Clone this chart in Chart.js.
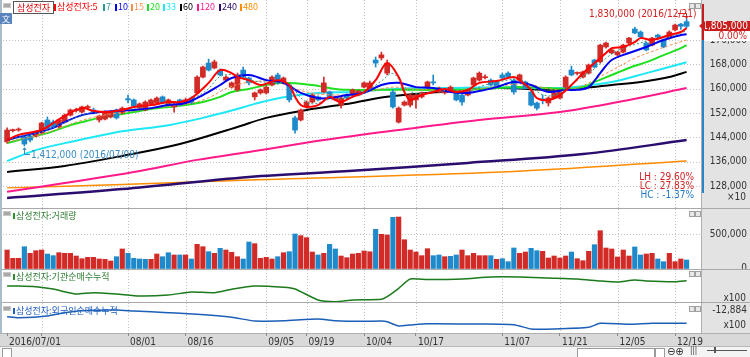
<!DOCTYPE html>
<html><head><meta charset="utf-8">
<script src="https://cdn.jsdelivr.net/npm/chart.js@4.4.1/dist/chart.umd.min.js"></script>
<style>
html,body{margin:0;padding:0;background:#fff;}
#wrap{position:relative;width:750px;height:357px;overflow:hidden;background:#fff;}
canvas{position:absolute;left:0;}
.t{position:absolute;white-space:nowrap;font-family:'Noto Sans CJK KR',sans-serif;font-size:9px;line-height:11px;}
.n{position:absolute;white-space:nowrap;font-family:'Liberation Sans Narrow','DejaVu Sans Condensed','Liberation Sans',sans-serif;font-size:10px;line-height:11px;}
.ico{position:absolute;width:6px;height:3px;background:#a8a8a8;border:1px solid #c8c8c8;}
.wb{position:absolute;width:4px;height:4px;border:1px solid #a0a0a0;background:#e8e8e8;}
.sep{position:absolute;left:0;width:750px;height:1px;background:#a9a9a9;}
</style></head>
<body><div id="wrap">
<canvas id="cPrice" width="750" height="208" style="top:0"></canvas>
<canvas id="cVol" width="750" height="60" style="top:209px"></canvas>
<canvas id="cInst" width="750" height="32" style="top:270px"></canvas>
<canvas id="cFor" width="750" height="43" style="top:303px"></canvas>

<div class="sep" style="top:208px"></div>
<div class="sep" style="top:269px"></div>
<div class="sep" style="top:302px"></div>
<div style="position:absolute;left:0;top:0;width:2px;height:333px;background:#a9bccc"></div>

<!-- top-left title & legend -->
<div class="ico" style="left:3px;top:3px"></div>
<div class="t" style="left:13px;top:1px;width:39px;height:11px;border:1px solid #555;color:#e00000;text-align:center;background:#fff">삼성전자</div>
<div id="legend"></div>
<div class="t" style="left:0;top:13px;width:12px;height:11px;background:#5a84bd;color:#fff;text-align:center;font-size:8px;line-height:11px">文</div>

<!-- panel headers -->
<div class="ico" style="left:3px;top:211px"></div>
<div style="position:absolute;left:13px;top:213px;width:2px;height:6px;background:#2e8b2e"></div>
<div class="t" style="left:16px;top:210px;color:#2e7d32">삼성전자:거래량</div>
<div class="ico" style="left:3px;top:272px"></div>
<div style="position:absolute;left:13px;top:274px;width:2px;height:6px;background:#2e8b2e"></div>
<div class="t" style="left:16px;top:271px;color:#2e7d32">삼성전자:기관순매수누적</div>
<div class="ico" style="left:3px;top:306px"></div>
<div style="position:absolute;left:13px;top:308px;width:2px;height:6px;background:#1f5fbf"></div>
<div class="t" style="left:16px;top:305px;color:#1f5fbf">삼성전자:외국인순매수누적</div>

<!-- window buttons -->
<div class="wb" style="left:689px;top:3px"></div><div class="wb" style="left:695px;top:3px"></div>
<div class="wb" style="left:689px;top:211px"></div><div class="wb" style="left:695px;top:211px"></div>
<div class="wb" style="left:689px;top:271px"></div><div class="wb" style="left:695px;top:271px"></div>
<div class="wb" style="left:689px;top:306px"></div><div class="wb" style="left:695px;top:306px"></div>

<!-- annotations -->
<div class="n" style="left:589px;top:8px;color:#d42020">1,830,000 (2016/12/21)</div>
<div class="n" style="left:31px;top:149px;color:#3a8cc4">1,412,000 (2016/07/08)</div>
<div class="n" style="right:56px;top:171px;color:#d42020;text-align:right">LH : 29.60%</div>
<div class="n" style="right:56px;top:180px;color:#d42020;text-align:right">LC : 27.83%</div>
<div class="n" style="right:56px;top:189px;color:#1f78c8;text-align:right">HC : -1.37%</div>

<!-- right axis overlays -->
<div style="position:absolute;left:704px;top:31px;width:46px;height:10px;background:#fff"></div>
<div class="n" style="right:3px;top:30px;color:#d42020;text-align:right">0.00%</div>
<div style="position:absolute;left:705px;top:21px;width:45px;height:10px;background:#c81e1e"></div>
<div class="n" style="right:2px;top:20px;color:#fff;text-align:right">1,805,000</div>
<div class="n" style="right:4px;top:191px;color:#333;text-align:right">×10</div>
<div class="n" style="right:4px;top:292px;color:#333;text-align:right">x100</div>
<div class="n" style="right:4px;top:319px;color:#333;text-align:right">x100</div>

<!-- bottom bar -->
<div style="position:absolute;left:0;top:346px;width:750px;height:11px;background:#f4f4f4;border-top:1px solid #b8b8b8"></div>
<div style="position:absolute;left:2px;top:348px;width:8px;height:8px;border:1px solid #9a9a9a;background:#fff"></div>
<div style="position:absolute;left:577px;top:348px;width:76px;height:8px;border:1px solid #9a9a9a;background:#fff"></div>
<div style="position:absolute;left:655px;top:348px;width:8px;height:8px;border:1px solid #9a9a9a;background:#fff"></div>
<div class="n" style="left:667px;top:346px;color:#333;font-size:11px">⊖⊕</div>
<div class="n" style="left:690px;top:345px;color:#333;font-size:8px">|||</div>
<div style="position:absolute;left:707px;top:350px;width:40px;height:1px;background:#555"></div>
<div style="position:absolute;left:714px;top:347px;width:2px;height:6px;background:#555"></div>

<svg width="750" height="357" style="position:absolute;left:0;top:0;pointer-events:none">
  <polyline points="678,13.5 686.5,13.5 686.5,17" fill="none" stroke="#d42020" stroke-width="1"/>
  <polygon points="684.5,16 688.5,16 686.5,19" fill="#d42020"/>
  <polyline points="24.5,148 24.5,154.5 30,154.5" fill="none" stroke="#3a8cc4" stroke-width="1"/>
  <polygon points="22.5,150 26.5,150 24.5,147" fill="#3a8cc4"/>
  <polygon points="699,26 705,21 705,31" fill="#c81e1e"/>
  <line x1="703" y1="4" x2="703" y2="40" stroke="#c81e1e" stroke-width="2"/>
  <line x1="703" y1="40" x2="703" y2="193" stroke="#2a86c6" stroke-width="2"/>
</svg>
</div>

<script>
// ---------- DATA (prices in thousand KRW) ----------
const tickIdx  = [0, 6, 21, 31, 45, 52, 62, 71, 86, 96, 106, 116];
const tickText = ['2016/07/01', '', '08/01', '08/16', '09/05', '09/19', '10/04', '10/17', '11/07', '11/21', '12/05', '12/19'];

const openK = [1425,1462,1464,1441,1444,1444,1454,1497,1490,1474, 1490,1513,1528,1523,1538,1530,1497,1500,1507,1530,
  1520,1567,1563,1536,1530,1550,1553,1573,1546,1540, 1563,1553,1569,1586,1638,1684,1668,1661,1628,1605,
  1596,1661,1635,1573,1586,1586,1612,1645,1619,1612, 1504,1497,1540,1556,1573,1589,1589,1563,1546,1579,
  1579,1579,1605,1602,1694,1701,1651,1589,1490,1546, 1546,1563,1573,1605,1622,1589,1586,1596,1589,1579,
  1579,1612,1628,1636,1628,1622,1645,1651,1628,1628, 1622,1589,1553,1566,1553,1569,1569,1605,1661,1650,
  1638,1651,1694,1688,1737,1717,1711,1720,1750,1796, 1786,1750,1743,1776,1760,1766,1793,1812,1820];
const highK = [1471,1467,1471,1448,1448,1461,1490,1507,1497,1500, 1517,1533,1536,1543,1546,1536,1513,1527,1527,1533,
  1540,1579,1566,1553,1560,1566,1573,1576,1566,1553, 1566,1569,1573,1642,1674,1697,1694,1665,1642,1622,
  1651,1671,1638,1589,1599,1609,1642,1651,1638,1615, 1510,1533,1560,1583,1576,1638,1592,1576,1573,1583,
  1599,1596,1622,1625,1704,1720,1694,1596,1540,1560, 1583,1583,1589,1625,1645,1605,1599,1609,1592,1583,
  1599,1638,1655,1645,1632,1625,1651,1655,1632,1648, 1625,1592,1556,1579,1573,1589,1592,1642,1674,1655,
  1658,1681,1697,1746,1753,1730,1723,1746,1769,1802, 1790,1753,1769,1779,1763,1790,1812,1815,1830];
const lowK = [1421,1458,1460,1412,1425,1441,1451,1467,1471,1471, 1487,1510,1523,1520,1533,1517,1490,1497,1504,1500,
  1517,1553,1540,1533,1527,1546,1550,1550,1543,1523, 1543,1550,1550,1583,1635,1658,1665,1642,1625,1602,
  1592,1635,1612,1563,1582,1582,1609,1615,1615,1556, 1454,1494,1536,1553,1560,1586,1569,1560,1536,1566,
  1576,1576,1602,1599,1671,1694,1645,1536,1487,1543, 1540,1536,1569,1599,1612,1586,1582,1592,1560,1546,
  1576,1609,1625,1632,1609,1602,1632,1635,1582,1625, 1599,1543,1530,1550,1543,1566,1566,1602,1642,1645,
  1635,1648,1668,1684,1733,1714,1708,1717,1746,1780, 1766,1724,1740,1763,1734,1763,1790,1795,1800];
const closeK = [1464,1464,1467,1418,1431,1457,1487,1471,1474,1497, 1513,1530,1530,1540,1540,1520,1510,1523,1523,1504,
  1536,1563,1543,1550,1556,1563,1569,1553,1563,1550, 1546,1563,1553,1638,1671,1661,1688,1645,1638,1619,
  1645,1638,1619,1586,1596,1605,1638,1619,1635,1563, 1464,1530,1556,1579,1563,1619,1573,1573,1569,1569,
  1596,1592,1619,1619,1684,1711,1684,1540,1536,1556, 1579,1579,1586,1622,1619,1602,1596,1605,1563,1556,
  1596,1635,1651,1638,1612,1605,1635,1638,1589,1645, 1602,1546,1536,1563,1569,1586,1589,1638,1645,1651,
  1655,1678,1671,1743,1750,1727,1720,1743,1766,1783, 1770,1727,1766,1769,1737,1786,1809,1805,1805];

// volume in thousand shares, and colour flags (R = red, B = blue)
const volK = [268,148,148,316,220,258,268,210,186,229, 220,220,181,142,162,162,138,133,109,171,
  283,220,148,138,133,133,210,171,229,196, 196,196,138,350,316,244,220,292,268,235,
  171,138,384,360,148,162,138,171,229,244, 500,476,447,239,196,220,350,283,181,157,
  210,220,254,243,568,496,486,742,746,417, 268,239,186,287,186,196,171,176,196,268,
  186,220,186,186,186,133,142,99,297,220, 239,292,258,249,152,181,152,181,239,142,
  113,249,345,548,297,283,167,268,181,312, 196,210,220,138,99,220,99,138,123];
const volColour = 'RRRBRRRBBRRRRRRRRRRB' + 'RBBBBRRBBRBRBRRBRBRR' + 'RBBRRRRBRBBRRRBRBBRR' +
  'RRRRBR' + 'RBRRRRRRBB' + 'RBBRRRRRBR' + 'BBBRRBBRRR' + 'RRBRRRBRRR' + 'RRRBBRRBBR' + 'RRB';

// moving averages: [day index, price]
const ma5 = [[0,1431],[2,1448],[6,1464],[8,1487],[10,1510],[13,1536],[15,1527],[17,1523],[20,1530],[22,1540],[25,1546],[28,1556],[30,1556],[32,1569],[35,1619],[37,1661],[39,1651],[40,1638],[42,1628],[44,1612],[47,1628],[49,1612],[50,1573],[51,1546],[52,1540],[54,1546],[56,1573],[57,1563],[58,1556],[60,1573],[62,1589],[64,1628],[66,1684],[68,1638],[69,1589],[70,1563],[72,1579],[74,1589],[76,1599],[78,1589],[80,1596],[82,1619],[85,1625],[88,1638],[89,1628],[91,1596],[92,1569],[94,1563],[96,1579],[98,1612],[100,1651],[102,1684],[104,1717],[105,1733],[107,1737],[109,1753],[110,1766],[112,1760],[115,1776],[117,1786],[118,1799]];
const ma7 = [[0,1431],[3,1445],[6,1458],[9,1480],[12,1505],[15,1522],[18,1525],[21,1532],[24,1541],[27,1551],[30,1556],[33,1575],[35,1600],[37,1640],[40,1645],[43,1625],[46,1620],[49,1615],[51,1570],[53,1550],[56,1565],[59,1570],[62,1585],[65,1625],[67,1650],[69,1605],[71,1585],[74,1590],[77,1595],[80,1592],[83,1612],[86,1625],[89,1630],[91,1605],[93,1580],[95,1578],[97,1600],[100,1640],[102,1665],[104,1700],[106,1725],[109,1745],[112,1760],[115,1770],[118,1790]];
const ma10 = [[0,1431],[2,1441],[5,1454],[8,1471],[10,1490],[13,1513],[16,1523],[19,1527],[22,1530],[25,1536],[28,1546],[31,1553],[34,1579],[37,1612],[39,1635],[42,1645],[45,1628],[48,1619],[51,1586],[54,1569],[56,1569],[59,1579],[62,1586],[65,1612],[68,1619],[71,1605],[74,1602],[77,1589],[80,1586],[83,1596],[85,1605],[88,1622],[91,1612],[94,1589],[97,1596],[99,1596],[101,1605],[103,1651],[105,1694],[108,1717],[111,1737],[114,1760],[117,1776],[118,1779]];
const ma15 = [[0,1425],[4,1440],[8,1462],[12,1490],[16,1510],[20,1522],[24,1532],[28,1542],[32,1552],[35,1570],[38,1600],[41,1618],[44,1625],[47,1622],[50,1600],[53,1585],[56,1580],[60,1580],[64,1595],[67,1605],[70,1600],[74,1595],[78,1593],[82,1600],[86,1610],[90,1615],[94,1600],[97,1595],[100,1610],[103,1640],[106,1670],[109,1700],[112,1722],[115,1742],[118,1760]];
const ma20 = [[0,1421],[4,1441],[7,1454],[10,1474],[13,1490],[16,1504],[19,1513],[22,1523],[25,1533],[28,1540],[31,1546],[34,1556],[37,1573],[39,1589],[42,1599],[45,1612],[48,1619],[53,1612],[56,1602],[59,1596],[65,1596],[71,1596],[77,1596],[83,1599],[88,1605],[94,1602],[97,1599],[100,1605],[102,1622],[105,1645],[108,1668],[111,1687],[114,1710],[117,1733],[118,1743]];
const ma33 = [[0,1362],[5,1398],[10,1421],[16,1445],[20,1460],[28,1480],[34,1504],[39,1528],[43,1550],[48,1572],[54,1586],[60,1589],[65,1596],[71,1602],[77,1602],[86,1605],[96,1602],[105,1622],[111,1651],[118,1687]];
const ma60 = [[0,1326],[10,1346],[20,1379],[30,1418],[40,1474],[45,1504],[52,1530],[60,1553],[66,1573],[75,1589],[85,1602],[95,1596],[100,1602],[105,1612],[110,1622],[115,1638],[118,1655]];
const ma120 = [[0,1261],[10,1290],[22,1326],[33,1366],[42,1392],[55,1431],[68,1464],[82,1497],[96,1523],[108,1563],[118,1602]];
const ma240 = [[0,1241],[20,1270],[42,1310],[60,1330],[80,1356],[100,1385],[118,1431]];
const ma480 = [[0,1274],[20,1285],[42,1300],[86,1326],[118,1362]];

// cumulative net buying (x100 shares): [day index, value]
const instCum = [[0,600],[2,600],[5,530],[8,300],[10,30],[12,-200],[15,-70],[19,-200],[23,-400],[28,-300],[32,0],[36,-70],[39,270],[43,600],[48,470],[50,300],[54,-800],[57,-970],[60,-800],[65,-730],[66,-470],[68,370],[70,1300],[73,1250],[79,1300],[84,1500],[89,1500],[94,1400],[99,1300],[103,1100],[106,1000],[109,1200],[111,1100],[116,1030],[118,1130]];
const forCum = [[0,-13286],[2,-13346],[7,-13244],[10,-13046],[13,-12926],[19,-12884],[22,-12944],[28,-13046],[33,-13142],[39,-13322],[43,-13544],[48,-13526],[54,-13424],[57,-13526],[62,-13562],[65,-13544],[66,-13586],[68,-13844],[70,-13784],[73,-13706],[82,-13724],[88,-13766],[91,-14024],[95,-14024],[101,-13922],[103,-13682],[108,-13742],[112,-13682],[118,-13682]];

const maNames = ['삼성전자:5', '7', '10', '15', '20', '33', '60', '120', '240', '480'];
const priceTicks = [1280, 1360, 1440, 1520, 1600, 1680, 1760];
const volTicks = [0, 500];
const forTicks = [-12884];

// ---------- STYLE ----------
const UP = '#d22a26', DOWN = '#1f8acb';
const maColors = ['#ff0000', '#2f9a8c', '#0000f0', '#f39050', '#1ee01e', '#1ee8f5', '#000000', '#ff1a8c', '#2a0d6e', '#ff8c00'];
const NUMFONT = "'Liberation Sans Narrow','DejaVu Sans Condensed','Liberation Sans',sans-serif";
const AXIS_BG = '#e3e3e3', BAND_BG = '#d9d9d9', GRID = '#c2c2c2';
const X_MIN = -0.71, X_MAX = 120.5;

Chart.defaults.animation = false;
Chart.defaults.events = [];
Chart.defaults.font.family = NUMFONT;
Chart.defaults.font.size = 10;
Chart.defaults.color = '#333';
Chart.defaults.plugins.legend.display = false;
Chart.defaults.plugins.tooltip.enabled = false;

const fmt = v => Math.round(v).toLocaleString('en-US');

// legend (HTML text)
(function(){
  const lg = document.getElementById('legend');
  let x = 54;
  const widths = [49, 12, 16, 16, 16, 17, 17, 22, 21, 20];
  maNames.forEach((nm, k) => {
    const m = document.createElement('div');
    m.style.cssText = `position:absolute;left:${x}px;top:4px;width:2px;height:7px;background:${maColors[k]}`;
    lg.appendChild(m);
    const t = document.createElement('div');
    t.className = 't';
    t.style.cssText = `left:${x + 3}px;top:1px;color:${maColors[k]}`;
    t.textContent = nm;
    lg.appendChild(t);
    x += widths[k];
  });
})();

const panel = {
  id: 'panel',
  beforeDraw(chart, args, o) {
    const {ctx, chartArea: a, width, height} = chart;
    ctx.save();
    ctx.fillStyle = '#fff'; ctx.fillRect(0, 0, width, height);
    ctx.fillStyle = AXIS_BG; ctx.fillRect(a.right + 1, 0, width - a.right - 1, a.bottom);
    if (o.band) { ctx.fillStyle = BAND_BG; ctx.fillRect(0, a.bottom, width, height - a.bottom); }
    const xs = chart.scales.x;
    ctx.strokeStyle = GRID; ctx.lineWidth = 1; ctx.setLineDash([1, 2]);
    tickIdx.slice(1).forEach(i => {
      const px = Math.round(xs.getPixelForValue(i)) + 0.5;
      ctx.beginPath(); ctx.moveTo(px, a.top); ctx.lineTo(px, a.bottom); ctx.stroke();
    });
    (o.hLines || []).forEach(v => {
      const py = Math.round(chart.scales.y.getPixelForValue(v)) + 0.5;
      ctx.beginPath(); ctx.moveTo(a.left, py); ctx.lineTo(a.right, py); ctx.stroke();
    });
    ctx.setLineDash([]);
    ctx.strokeStyle = '#b0b0b0';
    ctx.beginPath(); ctx.moveTo(a.right + 0.5, 0); ctx.lineTo(a.right + 0.5, a.bottom); ctx.stroke();
    if (o.band) { ctx.beginPath(); ctx.moveTo(0, a.bottom + 0.5); ctx.lineTo(width, a.bottom + 0.5); ctx.stroke(); }
    ctx.restore();
  }
};
Chart.register(panel);

function xAxis(show) {
  return {
    type: 'linear', min: X_MIN, max: X_MAX, offset: false, display: show,
    grid: {display: show, drawOnChartArea: false, drawTicks: true, tickLength: 3, color: '#8a8a8a'},
    border: {display: false},
    afterBuildTicks: s => { s.ticks = tickIdx.map(v => ({value: v})); },
    ticks: {autoSkip: false, maxRotation: 0, minRotation: 0, align: 'start', labelOffset: 2, padding: 0,
      color: '#333', font: {size: 10, family: NUMFONT},
      callback: v => { const k = tickIdx.indexOf(v); return k >= 0 ? tickText[k] : ''; }},
    afterFit: s => { s.height = show ? 13 : 0; s.paddingLeft = 0; s.paddingRight = 0; }
  };
}
function yAxis(min, max, ticks, cb) {
  return {
    type: 'linear', position: 'right', min, max,
    grid: {display: false, drawTicks: false}, border: {display: false},
    afterBuildTicks: s => { s.ticks = ticks.map(v => ({value: v})); },
    ticks: {crossAlign: 'far', padding: 0, color: '#333', font: {size: 10, family: NUMFONT}, callback: cb},
    afterFit: s => { s.width = 46; s.paddingTop = 0; s.paddingBottom = 0; }
  };
}
const LAYOUT = {padding: {left: 3, right: 3, top: 0, bottom: 0}};
const pts = arr => arr.map(([i, v]) => ({x: i, y: v}));
const days = openK.map((_, i) => i);
const candleCol = days.map(i => closeK[i] >= openK[i] ? UP : DOWN);

// ---------- PRICE PANEL ----------
const maSets = [ma5, ma7, ma10, ma15, ma20, ma33, ma60, ma120, ma240, ma480];
const maWidth = [2, 1, 2, 1, 2, 2, 2, 2, 2.5, 1.5];
const maDash = [[], [2, 2], [], [3, 2], [], [], [], [], [], []];
const maOrder = [1, 2, 3, 4, 30, 31, 32, 33, 34, 35];
const lineSets = maSets.map((s, k) => ({
  type: 'line', data: pts(s), borderColor: maColors[k], borderWidth: maWidth[k], borderDash: maDash[k],
  pointRadius: 0, tension: 0.35, fill: false, order: maOrder[k]
}));

new Chart(document.getElementById('cPrice'), {
  type: 'bar',
  data: {datasets: [
    {type: 'bar', data: days.map(i => ({x: i, y: [lowK[i], highK[i]]})), backgroundColor: candleCol,
     barPercentage: 1, categoryPercentage: 1, maxBarThickness: 1, grouped: false, order: 21},
    {type: 'bar', data: days.map(i => ({x: i, y: [openK[i], closeK[i]]})), backgroundColor: candleCol,
     barPercentage: 1, categoryPercentage: 1, maxBarThickness: 5, minBarLength: 1, grouped: false, order: 20},
    ...lineSets
  ]},
  options: {
    responsive: false, layout: LAYOUT,
    scales: {x: xAxis(false), y: yAxis(1207.88, 1891.25, priceTicks, v => fmt(v * 100))},
    plugins: {panel: {hLines: priceTicks}}
  }
});

// ---------- VOLUME PANEL ----------
new Chart(document.getElementById('cVol'), {
  type: 'bar',
  data: {datasets: [{
    data: days.map(i => ({x: i, y: volK[i]})),
    backgroundColor: days.map(i => volColour[i] === 'R' ? UP : DOWN),
    barPercentage: 1, categoryPercentage: 1, maxBarThickness: 4.5, grouped: false
  }]},
  options: {
    responsive: false, layout: LAYOUT,
    scales: {x: xAxis(false), y: yAxis(-7.25, 862.3, volTicks, v => v === 0 ? '0' : fmt(v * 1000))},
    plugins: {panel: {hLines: [500]}}
  }
});

// ---------- INSTITUTION PANEL ----------
new Chart(document.getElementById('cInst'), {
  type: 'line',
  data: {datasets: [{data: pts(instCum), borderColor: '#1b7a1b', borderWidth: 1.5, pointRadius: 0, tension: 0.2}]},
  options: {
    responsive: false, layout: LAYOUT,
    scales: {x: xAxis(false), y: yAxis(-1000, 2200, [600], () => '')},
    plugins: {panel: {}}
  }
});

// ---------- FOREIGN PANEL (with date axis) ----------
new Chart(document.getElementById('cFor'), {
  type: 'line',
  data: {datasets: [{data: pts(forCum), borderColor: '#1c5fb8', borderWidth: 1.5, pointRadius: 0, tension: 0.2}]},
  options: {
    responsive: false, layout: LAYOUT,
    scales: {x: xAxis(true), y: yAxis(-14264, -12464, forTicks, v => fmt(v))},
    plugins: {panel: {band: true}}
  }
});
</script>
</body></html>
